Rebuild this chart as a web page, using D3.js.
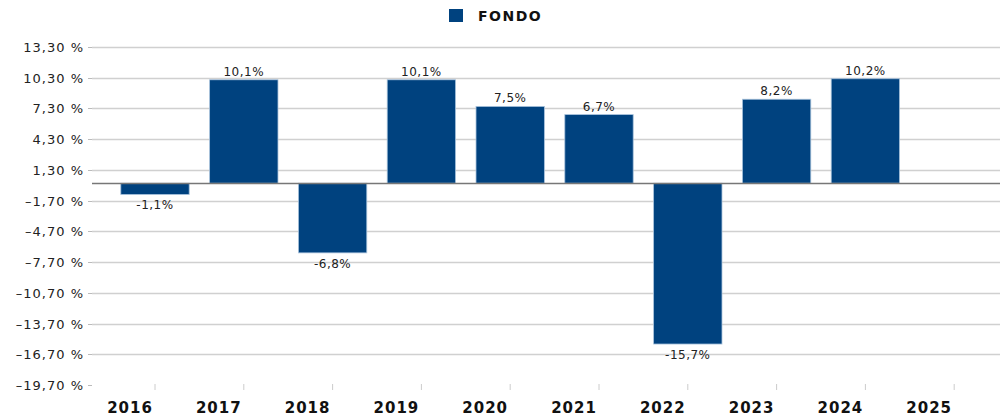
<!DOCTYPE html>
<html>
<head>
<meta charset="utf-8">
<script src="https://cdn.jsdelivr.net/npm/d3@7"></script>
<style>
  body { margin: 0; background: #fff; }
  svg { display: block; font-family: "DejaVu Sans", Verdana, sans-serif; }
</style>
</head>
<body>
<svg id="chart"></svg>
<script>
// data
const years = ["2016", "2017", "2018", "2019", "2020", "2021", "2022", "2023", "2024", "2025"];
const fondo = [-1.1, 10.1, -6.8, 10.1, 7.5, 6.7, -15.7, 8.2, 10.2, null];
const yTicks = [13.3, 10.3, 7.3, 4.3, 1.3, -1.7, -4.7, -7.7, -10.7, -13.7, -16.7, -19.7];

const W = 1007, H = 418;
const svg = d3.select("#chart").attr("width", W).attr("height", H);

const fmt = v => v.toFixed(1).replace(".", ",");

// scales
const x = d3.scaleBand().domain(years).range([110.6, 998.6]).paddingInner(0.23).paddingOuter(0.115);
const y = d3.scaleLinear().domain([-19.7, 13.3]).range([385, 47]);

// gridlines
svg.append("g")
  .selectAll("line")
  .data(yTicks.filter(t => t > -19))
  .join("line")
  .attr("x1", 92).attr("x2", 1000)
  .attr("y1", d => Math.round(y(d)) + 0.5).attr("y2", d => Math.round(y(d)) + 0.5)
  .attr("stroke", "#d0d0d0").attr("stroke-width", 1.5);

// y axis tick labels + ticks
const yg = svg.append("g");
yg.selectAll("line")
  .data(yTicks)
  .join("line")
  .attr("x1", 88).attr("x2", 92)
  .attr("y1", d => Math.round(y(d)) + 0.5).attr("y2", d => Math.round(y(d)) + 0.5)
  .attr("stroke", "#bbb");
yg.selectAll("text")
  .data(yTicks)
  .join("text")
  .attr("x", 84)
  .attr("y", d => y(d) + 5)
  .attr("text-anchor", "end")
  .attr("font-size", "13px")
  .attr("letter-spacing", "1px")
  .attr("fill", "#222")
  .text(d => d.toFixed(2).replace(".", ",").replace("-", "\u2013") + " %");

// bars
svg.append("g")
  .selectAll("rect")
  .data(years.map((yr, i) => ({yr, v: fondo[i]})).filter(d => d.v !== null))
  .join("rect")
  .attr("x", d => x(d.yr))
  .attr("width", x.bandwidth())
  .attr("y", d => y(Math.max(0, d.v)))
  .attr("height", d => Math.abs(y(d.v) - y(0)))
  .attr("fill", "#00427f")
  .attr("stroke", "#a9c3dc")
  .attr("stroke-width", 0.8);

// zero line
svg.append("line")
  .attr("x1", 92).attr("x2", 1000)
  .attr("y1", Math.round(y(0)) + 0.5).attr("y2", Math.round(y(0)) + 0.5)
  .attr("stroke", "#777").attr("stroke-width", 1.5);

// value labels
svg.append("g")
  .selectAll("text")
  .data(years.map((yr, i) => ({yr, v: fondo[i]})).filter(d => d.v !== null))
  .join("text")
  .attr("x", d => x(d.yr) + x.bandwidth() / 2)
  .attr("y", d => d.v >= 0 ? y(d.v) - 4 : y(d.v) + 15)
  .attr("text-anchor", "middle")
  .attr("font-size", "12px")
  .attr("letter-spacing", "0.5px")
  .attr("fill", "#222")
  .text(d => fmt(d.v) + "%");

// x axis ticks and labels
const xg = svg.append("g");
xg.selectAll("line")
  .data(years)
  .join("line")
  .attr("x1", d => x(d) + x.bandwidth() / 2).attr("x2", d => x(d) + x.bandwidth() / 2)
  .attr("y1", 384).attr("y2", 390)
  .attr("stroke", "#ccc");
xg.selectAll("text")
  .data(years)
  .join("text")
  .attr("x", d => x(d) + x.bandwidth() / 2 - 25)
  .attr("y", 413)
  .attr("text-anchor", "middle")
  .attr("font-size", "15px")
  .attr("font-weight", "bold")
  .attr("letter-spacing", "1px")
  .attr("fill", "#111")
  .text(d => d);

// legend
const lg = svg.append("g");
lg.append("rect")
  .attr("x", 449).attr("y", 9).attr("width", 14).attr("height", 13)
  .attr("fill", "#00427f");
lg.append("text")
  .attr("x", 478).attr("y", 21)
  .attr("font-size", "14px")
  .attr("font-weight", "bold")
  .attr("letter-spacing", "1.5px")
  .attr("fill", "#111")
  .text("FONDO");
</script>
</body>
</html>
